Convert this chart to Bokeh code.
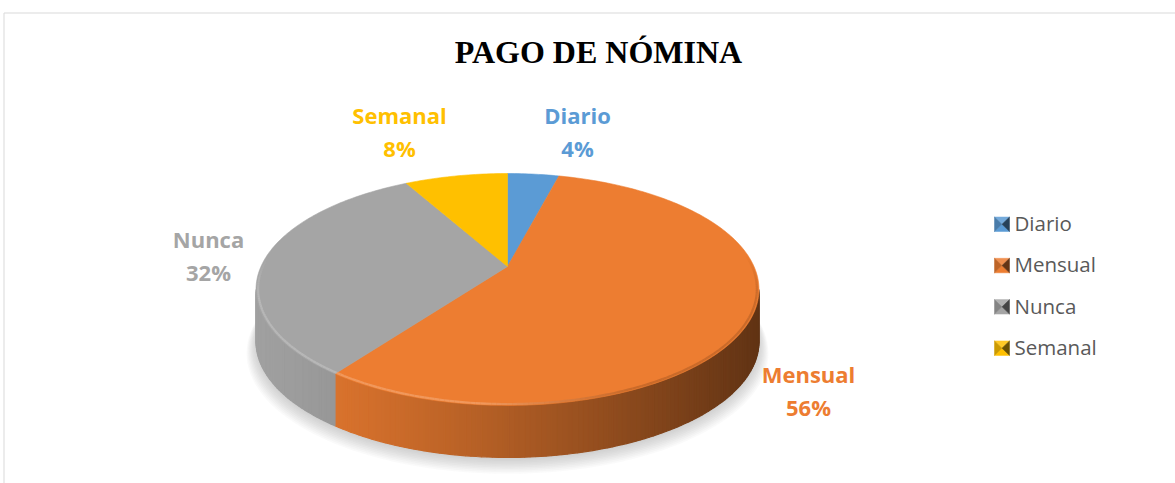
import numpy as np
from bokeh.plotting import figure
from bokeh.models import Range1d
from bokeh.embed import file_html
from bokeh.resources import INLINE
from bokeh.core.properties import value

# ---------------- data ----------------
title_text = "PAGO DE NÓMINA"
categories = ["Diario", "Mensual", "Nunca", "Semanal"]
values = [4, 56, 32, 8]
colors = ["#5B9BD5", "#ED7D31", "#A5A5A5", "#FFC000"]

# ---------------- layout / style ----------------
W, H = 1175, 483
OX, OY = 0, 0                     # data coords == page pixels
CX, CY = 507.0, 266.0             # projected pie centre
A, B, E = 246.5, 111.4, 0.198     # perspective projection of the disc
DEPTH = 52.0                      # thickness of the 3D pie
label_pos = {"Diario": (577, 114), "Mensual": (808, 373),
             "Nunca": (208, 238), "Semanal": (399, 114)}
LINE_GAP = 33.3
LEG_X, LEG_Y0, LEG_DY = 994.0, 231.0, 41.3
LEG_TEXT_SHIFT = -8.5


def hex2rgb(h):
    h = h.lstrip("#")
    return np.array([int(h[i:i + 2], 16) for i in (0, 2, 4)], dtype=float)


def rgb2hex(c):
    c = np.clip(np.round(c), 0, 255).astype(int)
    return "#%02x%02x%02x" % tuple(c)


def shade(h, f):
    return rgb2hex(hex2rgb(h) * f)


def tint(h, t):
    c = hex2rgb(h)
    return rgb2hex(c + (255 - c) * t)


def mix(h1, h2, t):
    return rgb2hex(hex2rgb(h1) * (1 - t) + hex2rgb(h2) * t)


def proj(phi_deg, dy=0.0, scale=1.0):
    ph = np.radians(np.asarray(phi_deg, dtype=float))
    u = np.sin(ph) * scale
    v = np.cos(ph) * scale
    d = 1 + E * v
    return CX + A * u / d, CY - B * v / d + dy


p = figure(width=W, height=H, x_range=Range1d(OX, OX + W), y_range=Range1d(OY + H, OY),
           output_backend="svg", toolbar_location=None, min_border=0,
           x_axis_type=None, y_axis_type=None)
p.grid.visible = False
p.outline_line_color = None
p.background_fill_color = "white"
p.border_fill_color = "white"

# chart area border (top / left)
p.line([3.5, OX + W], [12.5, 12.5], line_color="#D9D9D9", line_width=1)
p.line([3.5, 3.5], [12.5, OY + H], line_color="#D9D9D9", line_width=1)

total = float(sum(values))
angles = np.cumsum([0] + [v / total * 360.0 for v in values])

# ---------------- soft shadow ----------------
full = np.linspace(0, 360, 181)
for k in range(10):
    sx, sy = proj(full, dy=DEPTH + 2 + k * 0.9, scale=1.0 + 0.004 * k)
    p.patch(list(sx), list(sy), fill_color="#7F7F7F", fill_alpha=0.035, line_color=None)

# ---------------- side walls ----------------
vis_lo = np.degrees(np.arccos(-E))
vis_hi = 360.0 - vis_lo


def side_factor(x):
    t = np.clip((x - 255.0) / 503.0, 0, 1)
    return 0.97 - 0.56 * t ** 1.25


for i, cat in enumerate(categories):
    a0, a1 = max(angles[i], vis_lo), min(angles[i + 1], vis_hi)
    if a1 <= a0:
        continue
    n = max(2, int((a1 - a0) / 1.0) + 1)
    ph = np.linspace(a0, a1, n)
    xs_all, ys_all, cols = [], [], []
    for j in range(n - 1):
        tx, ty = proj([ph[j], ph[j + 1]])
        bx, by = proj([ph[j + 1], ph[j]], dy=DEPTH)
        xs_all.append([tx[0], tx[1], bx[0], bx[1]])
        ys_all.append([ty[0], ty[1], by[0], by[1]])
        cols.append(shade(colors[i], side_factor((tx[0] + tx[1]) / 2)))
    p.patches(xs_all, ys_all, fill_color=cols, line_color=cols, line_width=1.2)

# ---------------- top faces ----------------
for i, cat in enumerate(categories):
    n = max(3, int((angles[i + 1] - angles[i]) / 1.0) + 2)
    ph = np.linspace(angles[i], angles[i + 1], n)
    x, y = proj(ph)
    p.patch([CX] + list(x), [CY] + list(y), fill_color=colors[i],
            line_color=colors[i], line_width=0.6)

# rim bevel: light highlight at the front-left blending to darker at the right
for i, cat in enumerate(categories):
    n = max(3, int((angles[i + 1] - angles[i]) / 1.0) + 2)
    ph = np.linspace(angles[i], angles[i + 1], n)
    light, dark = tint(colors[i], 0.28), shade(colors[i], 0.75)
    segx, segy, segc, sega = [], [], [], []
    for j in range(n - 1):
        x, y = proj([ph[j], ph[j + 1]], scale=0.992)
        xm = (x[0] + x[1]) / 2
        t = float(np.clip(((xm - 255.0) / 503.0 - 0.45) / 0.3, 0, 1))
        front = -np.cos(np.radians((ph[j] + ph[j + 1]) / 2))
        if front < -0.1:
            continue
        segx.append(list(x))
        segy.append(list(y))
        segc.append(mix(light, dark, t))
        sega.append((0.75 - 0.15 * t) * min(1.0, (front + 0.1) * 2.5))
    if segx:
        p.multi_line(segx, segy, line_color=segc, line_alpha=sega, line_width=2.2)

# ---------------- data labels ----------------
for i, cat in enumerate(categories):
    lx, ly = label_pos[cat]
    pct = "%d%%" % round(values[i] / total * 100)
    p.text([lx, lx], [ly, ly + LINE_GAP], text=[cat, pct], text_color=colors[i],
           text_font=value("Open Sans"), text_font_style="bold", text_font_size="22px",
           text_align="center", text_baseline="alphabetic")

# ---------------- title ----------------
p.text([598], [51.5], text=[title_text], text_color="#000000",
       text_font=value("Liberation Serif"), text_font_style="bold", text_font_size="32px",
       text_align="center", text_baseline="alphabetic")

# ---------------- legend ----------------
for i, cat in enumerate(categories):
    base = LEG_Y0 + i * LEG_DY
    x0, x1 = LEG_X, LEG_X + 15
    y0, y1 = base - 14.5, base
    xm, ym = (x0 + x1) / 2, (y0 + y1) / 2
    tris_x = [[x0, x1, xm], [x0, x1, xm], [x0, x0, xm], [x1, x1, xm]]
    tris_y = [[y0, y0, ym], [y1, y1, ym], [y0, y1, ym], [y0, y1, ym]]
    tcols = [tint(colors[i], 0.15), colors[i], shade(colors[i], 0.8), shade(colors[i], 0.42)]
    p.patches(tris_x, tris_y, fill_color=tcols, line_color=tcols, line_width=0.5)
    p.text([LEG_X + 20], [base + LEG_TEXT_SHIFT], text=[cat], text_color="#595959",
           text_font=value("Open Sans"), text_font_size="20.5px",
           text_align="left", text_baseline="alphabetic")

open("out.html", "w").write(file_html(p, INLINE))
